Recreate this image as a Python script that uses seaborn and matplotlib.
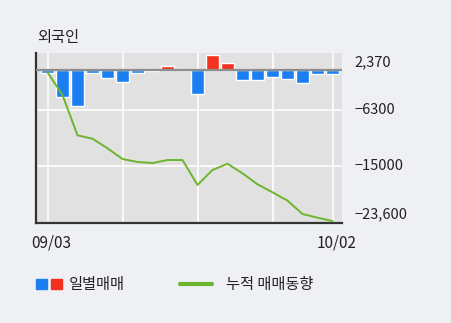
import matplotlib
matplotlib.use("Agg")
import matplotlib.pyplot as plt
import matplotlib.transforms as mtransforms
from matplotlib.patches import Rectangle
from matplotlib.lines import Line2D
import pandas as pd
import seaborn as sns

# Trading days (Sep 3 - Oct 2)
dates = ["09/03", "09/04", "09/05", "09/06", "09/09", "09/10", "09/11",
         "09/16", "09/17", "09/18", "09/19", "09/20", "09/23", "09/24",
         "09/25", "09/26", "09/27", "09/30", "10/01", "10/02"]
# Foreign investors' daily net trading
daily = [-420, -4170, -5570, -420, -1200, -1870, -420, -150, 670, 0,
         -3800, 2370, 1090, -1510, -1510, -1040, -1360, -1980, -580, -580]
# Cumulative net trading trend
cumulative = [-360, -3900, -10200, -10730, -12230, -13900, -14370, -14530,
              -14060, -14060, -17960, -15620, -14640, -16140, -17850,
              -19100, -20410, -22490, -23070, -23600]
tick_values = [2370, -6300, -15000, -23600]
tick_labels = ["2,370", "\u22126300", "\u221215000", "\u221223,600"]
x_tick_labels = ["09/03", "10/02"]

BLUE = "#1b7ff2"
RED = "#f2321f"
GREEN = "#6cb52e"
FIG_BG = "#eef0f4"
AX_BG = "#e1e1e1"
TEXT = "#222222"

sns.set_style("white")
plt.rcParams["font.family"] = ["Noto Sans CJK KR", "DejaVu Sans"]

df = pd.DataFrame({
    "date": dates,
    "daily": daily,
    "side": ["buy" if v > 0 else "sell" for v in daily],
    "pos": range(len(dates)),
    "cum": cumulative,
})

W, H = 451, 323
fig = plt.figure(figsize=(W / 100, H / 100), dpi=100, facecolor=FIG_BG)
ax = fig.add_axes([36 / W, 100 / H, 306 / W, 170 / H])
ax.set_facecolor(AX_BG)

# grid
for y in (-6300, -15000):
    ax.axhline(y, color="white", lw=1.2, zorder=1)
for p in (0, 5, 10, 15, 19):
    ax.axvline(p, color="white", lw=1.2, zorder=1)

sns.barplot(data=df, x="date", y="daily", hue="side",
            palette={"sell": BLUE, "buy": RED}, dodge=False, width=0.87,
            saturation=1, legend=False, ax=ax, zorder=2)
ax.axhline(0, color="#8e8e8e", lw=1.6, zorder=3)
sns.lineplot(data=df, x="pos", y="cum", color=GREEN, lw=1.4, ax=ax,
             zorder=4, errorbar=None)

ax.set_xlim(-0.767, 19.633)
ax.set_ylim(-23900, 2660)
ax.set_xlabel("")
ax.set_ylabel("")

ax.yaxis.tick_right()
ax.set_yticks(tick_values, tick_labels)
ax.tick_params(axis="y", length=0, pad=9, labelsize=10.5, labelcolor=TEXT)
for lbl, va in zip(ax.get_yticklabels(), ["top", "center", "center", "bottom"]):
    lbl.set_va(va)

ax.set_xticks([0, 19], x_tick_labels)
ax.tick_params(axis="x", length=0, pad=8, labelsize=11, labelcolor=TEXT)
shift = mtransforms.ScaledTranslation(4 / 100, 0, fig.dpi_scale_trans)
for lbl in ax.get_xticklabels():
    lbl.set_transform(lbl.get_transform() + shift)

for side in ("top", "right"):
    ax.spines[side].set_visible(False)
for side in ("left", "bottom"):
    ax.spines[side].set_color("#333333")
    ax.spines[side].set_linewidth(1.6)

fig.text(37 / W, 1 - 37.5 / H, "외국인", ha="left", va="center",
         fontsize=11, color=TEXT)

# legend
fig.patches.append(Rectangle((36 / W, 1 - 288.5 / H), 11 / W, 10 / H,
                             transform=fig.transFigure, color=BLUE))
fig.patches.append(Rectangle((51 / W, 1 - 288.5 / H), 11 / W, 10 / H,
                             transform=fig.transFigure, color=RED))
fig.text(69 / W, 1 - 284 / H, "일별매매", ha="left", va="center",
         fontsize=11, color=TEXT)
fig.lines.append(Line2D([180 / W, 212 / W], [1 - 283.7 / H, 1 - 283.7 / H],
                        transform=fig.transFigure, color=GREEN, lw=3))
fig.text(226 / W, 1 - 284 / H, "누적 매매동향", ha="left", va="center",
         fontsize=11, color=TEXT)

fig.savefig("out.png", dpi=100, facecolor=FIG_BG)
